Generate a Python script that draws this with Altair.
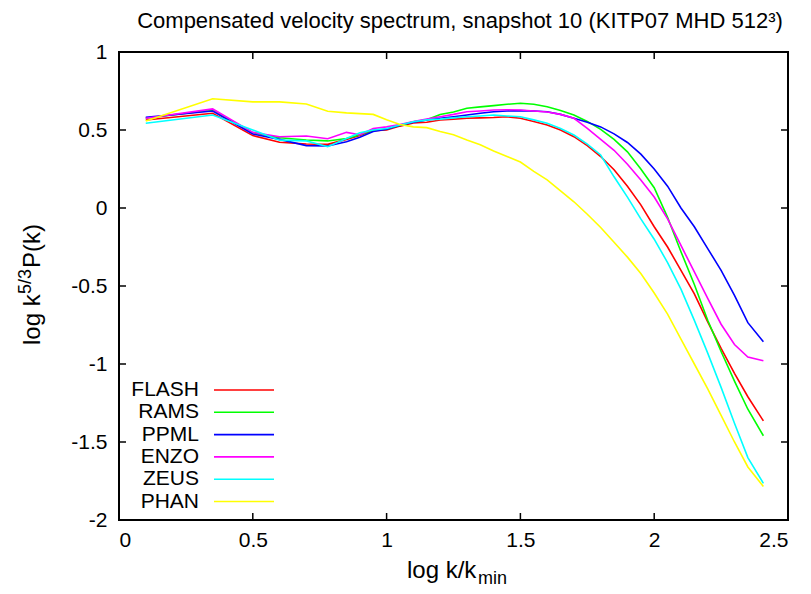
import altair as alt
import pandas as pd

# ---------------- data ----------------
log_k = [0.1, 0.35, 0.5, 0.6, 0.7, 0.78, 0.85, 0.9, 0.95, 1.0, 1.05, 1.1, 1.15, 1.2,
         1.25, 1.3, 1.35, 1.4, 1.45, 1.5, 1.55, 1.6, 1.65, 1.7, 1.75, 1.8, 1.85, 1.9,
         1.95, 2.0, 2.05, 2.1, 2.15, 2.2, 2.25, 2.3, 2.35, 2.408]

flash = [0.564, 0.607, 0.464, 0.421, 0.41, 0.408, 0.44, 0.465, 0.495, 0.50, 0.525, 0.545,
         0.55, 0.564, 0.57, 0.575, 0.578, 0.58, 0.585, 0.575, 0.555, 0.532, 0.50, 0.457,
         0.40, 0.33, 0.245, 0.14, 0.02, -0.12, -0.25, -0.40, -0.55, -0.73, -0.90, -1.06,
         -1.21, -1.365]
rams = [0.575, 0.628, 0.483, 0.45, 0.436, 0.43, 0.445, 0.47, 0.50, 0.505, 0.53, 0.553,
        0.565, 0.60, 0.615, 0.639, 0.648, 0.656, 0.665, 0.671, 0.665, 0.649, 0.625, 0.596,
        0.555, 0.504, 0.44, 0.36, 0.25, 0.13, -0.06, -0.28, -0.49, -0.72, -0.92, -1.11,
        -1.29, -1.46]
ppml = [0.581, 0.622, 0.474, 0.44, 0.40, 0.397, 0.425, 0.453, 0.49, 0.505, 0.53, 0.55,
        0.565, 0.575, 0.585, 0.596, 0.607, 0.617, 0.622, 0.624, 0.622, 0.617, 0.60, 0.575,
        0.55, 0.52, 0.475, 0.42, 0.345, 0.25, 0.14, 0.0, -0.12, -0.26, -0.40, -0.56,
        -0.735, -0.857]
enzo = [0.575, 0.635, 0.485, 0.457, 0.462, 0.444, 0.485, 0.47, 0.51, 0.52, 0.535, 0.555,
        0.57, 0.585, 0.60, 0.617, 0.622, 0.628, 0.63, 0.628, 0.622, 0.615, 0.60, 0.575,
        0.51, 0.44, 0.37, 0.28, 0.18, 0.07, -0.07, -0.24, -0.41, -0.58, -0.745, -0.875,
        -0.955, -0.979]
zeus = [0.543, 0.596, 0.50, 0.435, 0.43, 0.393, 0.445, 0.483, 0.50, 0.51, 0.532, 0.553,
        0.565, 0.57, 0.578, 0.585, 0.59, 0.596, 0.59, 0.585, 0.565, 0.543, 0.51, 0.468,
        0.41, 0.34, 0.20, 0.07, -0.07, -0.20, -0.35, -0.52, -0.72, -0.93, -1.15, -1.38,
        -1.60, -1.765]
phan = [0.558, 0.70, 0.68, 0.68, 0.667, 0.62, 0.61, 0.605, 0.60, 0.565, 0.535, 0.52,
        0.515, 0.49, 0.47, 0.436, 0.405, 0.365, 0.33, 0.295, 0.235, 0.18, 0.11, 0.04,
        -0.04, -0.125, -0.22, -0.315, -0.42, -0.545, -0.68, -0.84, -1.0, -1.16, -1.33,
        -1.50, -1.66, -1.786]

series_names = ["FLASH", "RAMS", "PPML", "ENZO", "ZEUS", "PHAN"]
series_colors = ["#ff0000", "#00ff00", "#0000ff", "#ff00ff", "#00ffff", "#ffff00"]
series_values = [flash, rams, ppml, enzo, zeus, phan]

x_ticks = [0, 0.5, 1, 1.5, 2, 2.5]
y_ticks = [-2, -1.5, -1, -0.5, 0, 0.5, 1]

title_text = "Compensated velocity spectrum, snapshot 10 (KITP07 MHD 512³)"

# ---------------- build ----------------
rows = []
for name, vals in zip(series_names, series_values):
    for i, (x, y) in enumerate(zip(log_k, vals)):
        rows.append({"series": name, "x": x, "y": y, "i": i})
df = pd.DataFrame(rows)

FONT = "Liberation Sans"
W, H = 669, 468
FS = 21
AFS = 24   # axis title size
SFS = 18   # sub/superscript size

xs = alt.Scale(domain=[0, 2.5], nice=False, zero=False)
ys = alt.Scale(domain=[-2, 1], nice=False, zero=False)

x_axis = alt.Axis(values=x_ticks, labelExpr="'' + datum.value", ticks=False, domain=False,
                  grid=False, title=None, labelFont=FONT, labelFontSize=FS,
                  labelColor="black", labelPadding=9)
y_axis = alt.Axis(values=y_ticks, labelExpr="'' + datum.value", ticks=False, domain=False,
                  grid=False, title=None, labelFont=FONT, labelFontSize=FS,
                  labelColor="black", labelPadding=12)

lines = alt.Chart(df).mark_line(strokeWidth=1.6, clip=True).encode(
    x=alt.X("x:Q", scale=xs, axis=x_axis),
    y=alt.Y("y:Q", scale=ys, axis=y_axis),
    color=alt.Color("series:N", scale=alt.Scale(domain=series_names, range=series_colors),
                    legend=None),
    order="i:Q",
)

xt = pd.DataFrame({"v": x_ticks})
yt = pd.DataFrame({"v": y_ticks})
TL = 7
tick_style = dict(color="black", strokeWidth=1.5)
ticks_bottom = alt.Chart(xt).mark_rule(**tick_style).encode(
    x=alt.X("v:Q", scale=xs, axis=x_axis), y=alt.value(H), y2=alt.value(H - TL))
ticks_top = alt.Chart(xt).mark_rule(**tick_style).encode(
    x=alt.X("v:Q", scale=xs, axis=x_axis), y=alt.value(0), y2=alt.value(TL))
ticks_left = alt.Chart(yt).mark_rule(**tick_style).encode(
    y=alt.Y("v:Q", scale=ys, axis=y_axis), x=alt.value(0), x2=alt.value(TL))
ticks_right = alt.Chart(yt).mark_rule(**tick_style).encode(
    y=alt.Y("v:Q", scale=ys, axis=y_axis), x=alt.value(W), x2=alt.value(W - TL))

layers = [lines, ticks_bottom, ticks_top, ticks_left, ticks_right]

# legend (inside, lower left)
for idx, (name, col) in enumerate(zip(series_names, series_colors)):
    yy = 338 + 22.3 * idx
    one = pd.DataFrame({"t": [name]})
    layers.append(alt.Chart(one).mark_text(align="right", baseline="middle", font=FONT,
                                           fontSize=21, color="black").encode(
        x=alt.value(80), y=alt.value(yy), text="t:N"))
    layers.append(alt.Chart(one).mark_rule(color=col, strokeWidth=1.6).encode(
        x=alt.value(95), x2=alt.value(155), y=alt.value(yy)))

def txt(s, x, y, size=FS, angle=0, align="left", baseline="alphabetic"):
    d = pd.DataFrame({"t": [s]})
    kw = dict(align=align, baseline=baseline, font=FONT, fontSize=size, color="black")
    if angle:
        kw["angle"] = angle
    return alt.Chart(d).mark_text(**kw).encode(x=alt.value(x), y=alt.value(y), text="t:N")

# title
layers.append(txt(title_text, 460 - 119, -24, size=22, align="center"))
# x axis title: log k/k_min
layers.append(txt("log k/k", 407 - 119, 578 - 52, size=AFS))
layers.append(txt("min", 478 - 119, 584 - 52, size=SFS))
# y axis title: log k^{5/3}P(k)
layers.append(txt("log k", 40 - 119, 345 - 52, size=AFS, angle=270))
layers.append(txt("5/3", 31 - 119, 294 - 52, size=SFS, angle=270))
layers.append(txt("P(k)", 40 - 119, 268 - 52, size=AFS, angle=270))

chart = alt.layer(*layers).properties(
    width=W, height=H,
    padding={"left": 119, "top": 52, "right": 23, "bottom": 74},
    autosize=alt.AutoSizeParams(type="none"),
    background="white",
).configure_view(stroke="black", strokeWidth=2)

chart.save("out.html", embed_options={"renderer": "svg", "actions": False})
